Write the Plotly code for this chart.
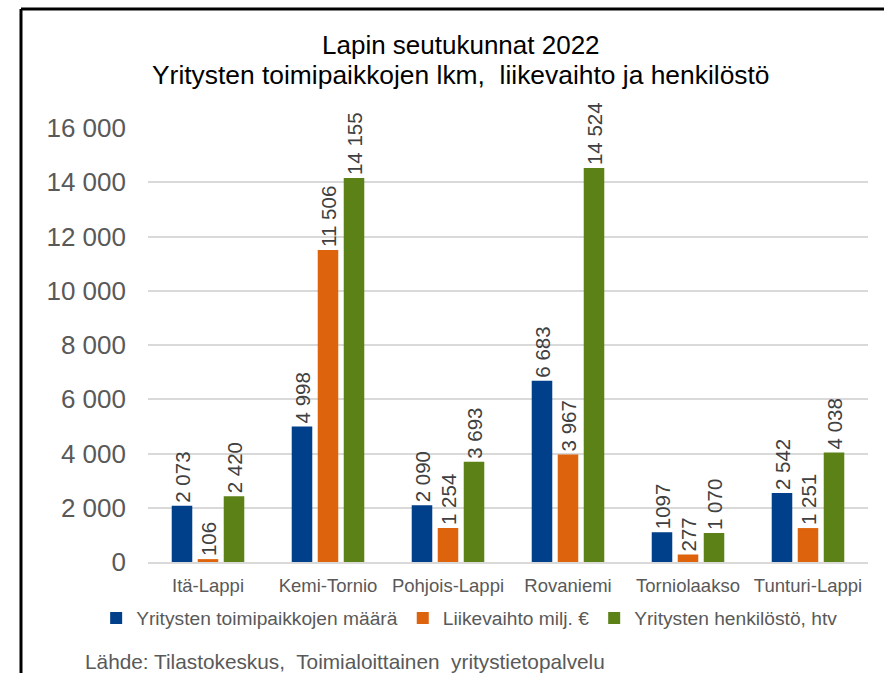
import plotly.graph_objects as go

# Seutukunnat ja sarjojen arvot
regions = ["Itä-Lappi", "Kemi-Tornio", "Pohjois-Lappi", "Rovaniemi", "Torniolaakso", "Tunturi-Lappi"]
toimipaikat = [2073, 4998, 2090, 6683, 1097, 2542]
liikevaihto = [106, 11506, 1254, 3967, 277, 1251]
henkilosto = [2420, 14155, 3693, 14524, 1070, 4038]

# Arvojen tekstit pylväiden päällä
toimipaikat_txt = ["2 073", "4 998", "2 090", "6 683", "1097", "2 542"]
liikevaihto_txt = ["106", "11 506", "1 254", "3 967", "277", "1 251"]
henkilosto_txt = ["2 420", "14 155", "3 693", "14 524", "1 070", "4 038"]

y_ticks = [0, 2000, 4000, 6000, 8000, 10000, 12000, 14000, 16000]
y_tick_labels = ["0", "2 000", "4 000", "6 000", "8 000", "10 000", "12 000", "14 000", "16 000"]

FONT = "Liberation Sans, Arial, sans-serif"

series = [
    ("Yritysten toimipaikkojen määrä", toimipaikat, toimipaikat_txt, "#003f8a"),
    ("Liikevaihto milj. €", liikevaihto, liikevaihto_txt, "#dd640c"),
    ("Yritysten henkilöstö, htv", henkilosto, henkilosto_txt, "#5b8117"),
]

fig = go.Figure()
for name, vals, txt, col in series:
    fig.add_trace(go.Bar(
        x=regions, y=vals, name=name,
        marker=dict(color=col, line=dict(width=0)),
        text=txt, textposition="outside", textangle=-90,
        constraintext="none", cliponaxis=False,
        textfont=dict(family=FONT, size=20.5, color="#404040"),
    ))

fig.update_layout(
    width=884, height=673,
    margin=dict(l=148, r=16, t=128, b=111),
    paper_bgcolor="white", plot_bgcolor="white",
    barmode="group", bargap=0.35, bargroupgap=0.21,
    font=dict(family=FONT, color="#595959"),
    showlegend=True,
    legend=dict(
        orientation="h", x=-0.072, xanchor="left", y=-0.129, yanchor="middle",
        font=dict(family=FONT, size=19.2, color="#595959"),
        itemwidth=30, bgcolor="rgba(0,0,0,0)",
    ),
    xaxis=dict(
        showgrid=False, showline=True, linecolor="#d9d9d9", linewidth=2,
        tickfont=dict(family=FONT, size=18.5, color="#595959"),
        ticks="", ticklabelstandoff=6,
    ),
    yaxis=dict(
        range=[0, 16000], tickvals=y_ticks, ticktext=y_tick_labels,
        showgrid=True, gridcolor="#d9d9d9", gridwidth=2,
        zeroline=False, showline=False, ticks="",
        tickfont=dict(family=FONT, size=26, color="#595959"),
        ticklabelstandoff=21,
    ),
    annotations=[
        dict(text="Lapin seutukunnat 2022", xref="paper", yref="paper",
             x=0.4347, y=1.191, xanchor="center", yanchor="middle", showarrow=False,
             font=dict(family=FONT, size=26, color="#000000")),
        dict(text="Yritysten toimipaikkojen lkm,  liikevaihto ja henkilöstö", xref="paper", yref="paper",
             x=0.4347, y=1.122, xanchor="center", yanchor="middle", showarrow=False,
             font=dict(family=FONT, size=26.4, color="#000000")),
        dict(text="Lähde: Tilastokeskus,  Toimialoittainen  yritystietopalvelu", xref="paper", yref="paper",
             x=-0.0903, y=-0.2304, xanchor="left", yanchor="middle", showarrow=False,
             font=dict(family=FONT, size=20.8, color="#595959")),
    ],
    shapes=[
        # kehys: vasen ja ylä
        dict(type="line", xref="paper", yref="paper", x0=-0.1764, x1=-0.1764, y0=1.274, y1=-0.3,
             line=dict(color="black", width=3)),
        dict(type="line", xref="paper", yref="paper", x0=-0.1764, x1=1.05, y0=1.274, y1=1.274,
             line=dict(color="black", width=3)),
    ],
)

fig.write_html("out.html")
